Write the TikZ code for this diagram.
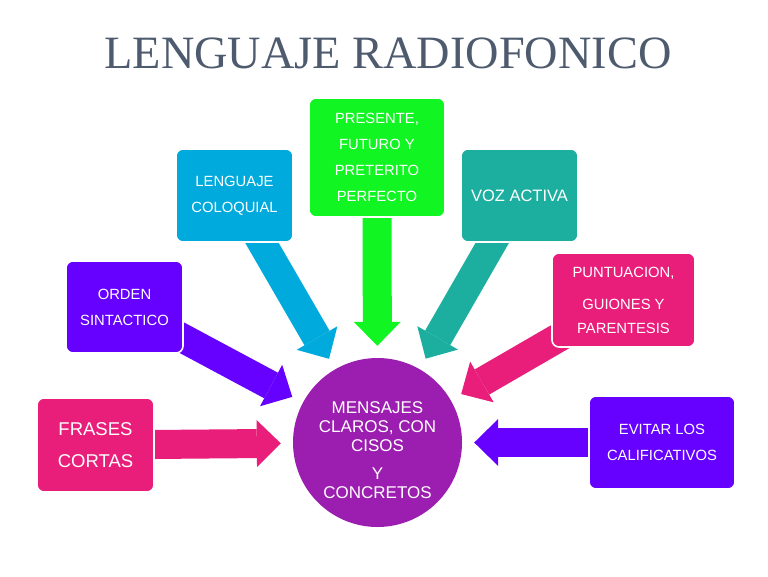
\documentclass[tikz,border=0pt]{standalone}
\usepackage{fontspec}
\setmainfont{Liberation Sans}
\newfontfamily\titlefont{Liberation Serif}
\usetikzlibrary{arrows.meta}
\pgfdeclarelayer{bg}
\pgfsetlayers{bg,main}
\definecolor{cpink}{RGB}{233,30,122}
\definecolor{cviolet}{RGB}{102,0,255}
\definecolor{ccyan}{RGB}{0,170,220}
\definecolor{cgreen}{RGB}{17,245,34}
\definecolor{cteal}{RGB}{28,175,160}
\definecolor{chub}{RGB}{156,30,176}
\definecolor{ctitle}{RGB}{78,91,110}
\begin{document}
\begin{tikzpicture}[x=1pt,y=-1pt,
  box/.style={rounded corners=7pt, draw=white, line width=1.6pt, text=white, align=center, inner sep=0pt},
  fs/.style={font=\fontsize{14.8pt}{26pt}\selectfont},
  blockarrow/.style={line width=29pt, draw=#1, -{Triangle[length=24pt,width=47pt,line width=0pt]}, shorten >=12pt}]
\useasboundingbox (0,0) rectangle (768,576);

\node[font=\titlefont\fontsize{46.3pt}{50pt}\selectfont, text=ctitle, anchor=base] (title) at (388,68) {LENGUAJE RADIOFONICO};

\node[circle, fill=chub, minimum size=169pt, inner sep=0pt] (hub) at (377.5,442.5) {};
\node[text=white, align=center, inner sep=0pt, font=\fontsize{17pt}{19pt}\selectfont] (hubtext) at (377.5,450.3) {MENSAJES\\CLAROS, CON\\CISOS\\[8.5pt]Y\\CONCRETOS};

\node[box, fill=cpink, minimum width=117pt, minimum height=94pt, font=\fontsize{18.5pt}{32.7pt}\selectfont] (frases) at (95.5,445) {FRASES\\CORTAS};
\node[box, fs, fill=cviolet, minimum width=117pt, minimum height=92pt] (orden) at (124.5,307) {ORDEN\\SINTACTICO};
\node[box, fs, fill=ccyan, minimum width=117pt, minimum height=93pt] (lenguaje) at (234.5,195.5) {LENGUAJE\\COLOQUIAL};
\node[box, fill=cgreen, minimum width=136pt, minimum height=119pt, font=\fontsize{14.8pt}{25.8pt}\selectfont] (presente) at (377,157.5) {PRESENTE,\\FUTURO Y\\PRETERITO\\PERFECTO};
\node[box, fill=cteal, minimum width=117pt, minimum height=93pt, font=\fontsize{16.5pt}{20pt}\selectfont] (voz) at (519.5,195.5) {VOZ ACTIVA};
\node[box, fs, fill=cpink, minimum width=143pt, minimum height=94pt] (puntu) at (623.5,300) {PUNTUACION,\\[6pt]GUIONES Y\\[-2pt]PARENTESIS};
\node[box, fs, fill=cviolet, minimum width=146pt, minimum height=93pt] (evitar) at (662,442.5) {EVITAR LOS\\CALIFICATIVOS};

\begin{pgfonlayer}{bg}
\fill[white] (0,0) rectangle (768,576);
\draw[blockarrow=cpink] (frases.center) -- (hub);
\draw[blockarrow=cviolet] (orden.center) -- (hub);
\draw[blockarrow=ccyan] (lenguaje.center) -- (hub);
\draw[blockarrow=cgreen] (presente.center) -- (hub);
\draw[blockarrow=cteal] (voz.center) -- (hub);
\draw[blockarrow=cpink] (puntu.center) -- (hub);
\draw[blockarrow=cviolet] (evitar.center) -- (hub);
\end{pgfonlayer}
\end{tikzpicture}
\end{document}
